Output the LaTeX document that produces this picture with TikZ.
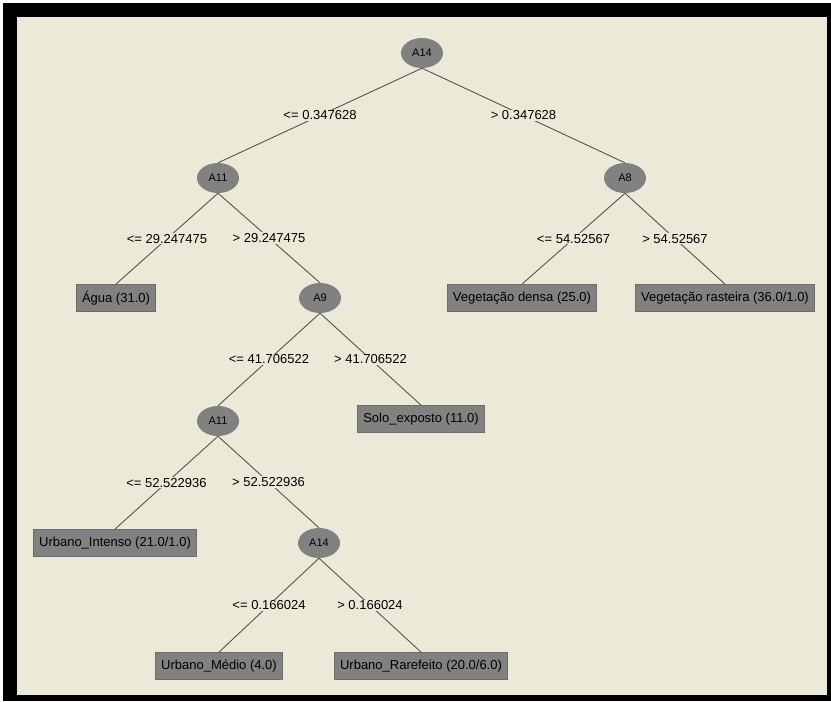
\documentclass[tikz,border=0pt]{standalone}
\usepackage{fontspec}
\setmainfont{Liberation Sans}
\usetikzlibrary{shapes.geometric}
\definecolor{panel}{HTML}{ECE9D8}
\definecolor{nodegray}{HTML}{818181}
\definecolor{leafedge}{HTML}{6C6C6C}
\definecolor{linegray}{HTML}{55554B}
\begin{document}
\begin{tikzpicture}[x=1pt, y=-1pt,
        attr/.style   = {ellipse, fill=nodegray, minimum width=42pt, minimum height=30pt,
                         inner sep=0pt, font=\fontsize{11}{12}\selectfont},
        leaf/.style   = {rectangle, fill=nodegray, draw=leafedge, line width=0.8pt,
                         minimum height=27pt, inner xsep=5.5pt, font=\fontsize{13}{14}\selectfont},
        cond/.style   = {fill=panel, inner xsep=2pt, inner ysep=1pt, font=\fontsize{13}{14}\selectfont},
        branch/.style = {draw=linegray, line width=0.9pt}]
        \useasboundingbox (0,0) rectangle (831,702);
        \fill[white]  (0,0)   rectangle (831,702);
        \fill[black]  (3,3)   rectangle (831,701);
        \fill[panel]  (17,17) rectangle (827,695);

        \node[attr] (root)       at (422,53)  {A14};
        \node[attr] (a11)        at (218,178) {A11};
        \node[attr] (a8)         at (625,178) {A8};
        \node[leaf] (agua)       at (116,298) {Água (31.0)};
        \node[attr] (a9)         at (320,298) {A9};
        \node[leaf] (vdensa)     at (522,298) {Vegetação densa (25.0)};
        \node[leaf] (vrasteira)  at (725,298) {Vegetação rasteira (36.0/1.0)};
        \node[attr] (a11b)       at (218,421) {A11};
        \node[leaf] (solo)       at (421,419) {Solo\_exposto (11.0)};
        \node[leaf] (uintenso)   at (115,543) {Urbano\_Intenso (21.0/1.0)};
        \node[attr] (a14b)       at (319,543) {A14};
        \node[leaf] (umedio)     at (219,666) {Urbano\_Médio (4.0)};
        \node[leaf] (urarefeito) at (421,666) {Urbano\_Rarefeito (20.0/6.0)};

        \draw[branch] (root.south) -- node[cond] {<= 0.347628}  (a11.north);
        \draw[branch] (root.south) -- node[cond] {> 0.347628}   (a8.north);
        \draw[branch] (a11.south)  -- node[cond] {<= 29.247475} (agua.north);
        \draw[branch] (a11.south)  -- node[cond] {> 29.247475}  (a9.north);
        \draw[branch] (a8.south)   -- node[cond] {<= 54.52567}  (vdensa.north);
        \draw[branch] (a8.south)   -- node[cond] {> 54.52567}   (vrasteira.north);
        \draw[branch] (a9.south)   -- node[cond] {<= 41.706522} (a11b.north);
        \draw[branch] (a9.south)   -- node[cond] {> 41.706522}  (solo.north);
        \draw[branch] (a11b.south) -- node[cond] {<= 52.522936} (uintenso.north);
        \draw[branch] (a11b.south) -- node[cond] {> 52.522936}  (a14b.north);
        \draw[branch] (a14b.south) -- node[cond] {<= 0.166024}  (umedio.north);
        \draw[branch] (a14b.south) -- node[cond] {> 0.166024}   (urarefeito.north);
\end{tikzpicture}
\end{document}
